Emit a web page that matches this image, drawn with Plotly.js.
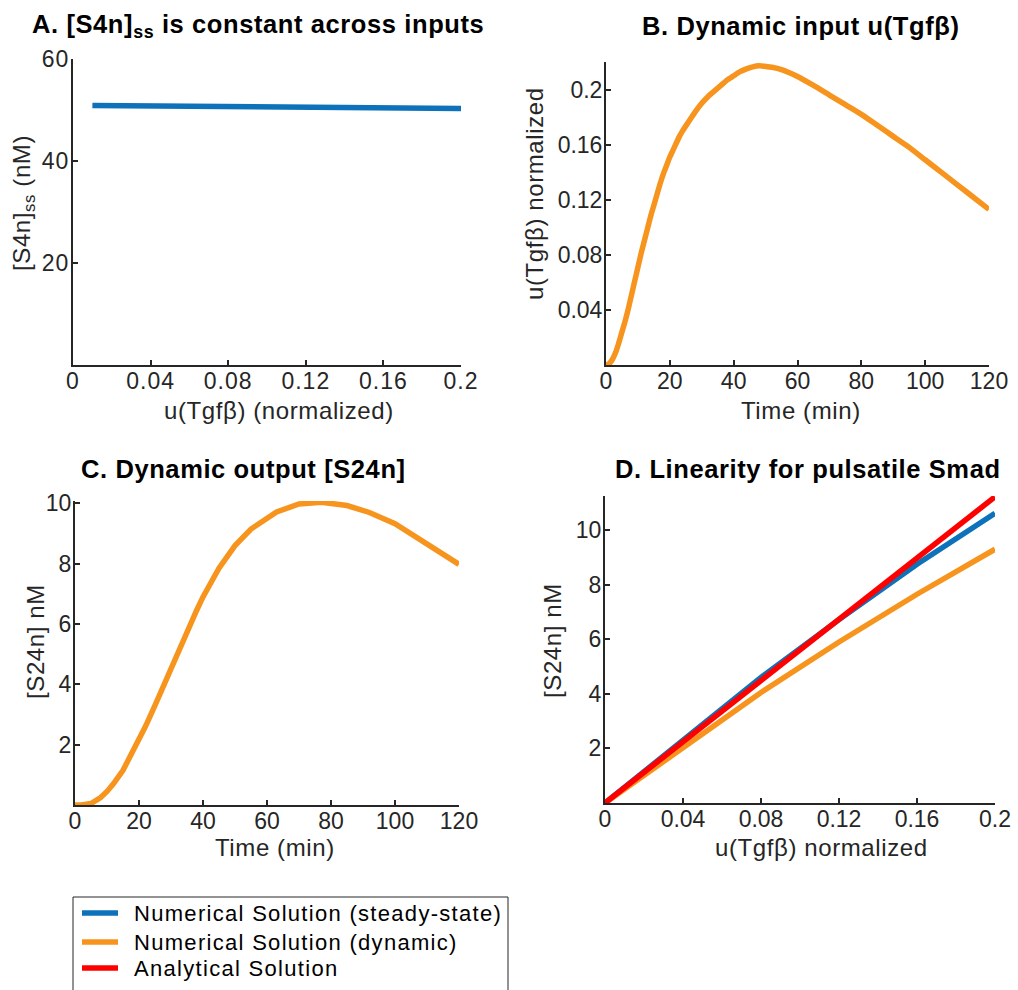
<!DOCTYPE html>
<html>
<head>
<meta charset="utf-8">
<script src="https://cdn.plot.ly/plotly-3.0.1.min.js"></script>
<style>
html,body{margin:0;padding:0;background:#fff;width:1018px;height:990px;overflow:hidden;}
#chart{position:absolute;left:0;top:0;width:1018px;height:990px;}
.xtick text,.ytick text{letter-spacing:1px;}
.annotation-text{letter-spacing:0.6px;}
text.annotation-text[style*="font-size: 22px"]{letter-spacing:1.3px;}
</style>
</head>
<body>
<div id="chart"></div>
<script>
// ---- Data ----
// Panel A: steady-state [S4n] vs input
const aInput = [0.01, 0.05, 0.10, 0.15, 0.20];
const aS4n = [50.9, 50.75, 50.6, 50.45, 50.3];

// Panel B: dynamic input u(Tgfb) over time
const bTime = [0, 1, 2, 3, 4, 5, 6, 7, 8, 9, 10, 11, 12, 13, 14, 15, 16, 17, 18, 19, 20, 21, 22, 23, 24, 26, 28, 30, 32, 34, 36, 38, 40, 42, 44, 46, 48, 50, 52, 55, 60, 65, 70, 75, 80, 85, 90, 95, 100, 105, 110, 115, 120];
const bInput = [0, 0.001, 0.004, 0.009, 0.016, 0.024, 0.032, 0.041, 0.051, 0.061, 0.071, 0.081, 0.090, 0.099, 0.108, 0.116, 0.124, 0.132, 0.139, 0.145, 0.151, 0.156, 0.161, 0.166, 0.170, 0.177, 0.184, 0.190, 0.195, 0.199, 0.203, 0.207, 0.210, 0.213, 0.215, 0.2165, 0.2172, 0.2168, 0.2162, 0.2145, 0.2095, 0.203, 0.196, 0.189, 0.182, 0.174, 0.166, 0.158, 0.149, 0.140, 0.131, 0.122, 0.113];

// Panel C: dynamic output [S24n] over time
const cTime = [0, 2, 5, 8, 10, 12, 15, 18, 20, 22, 25, 28, 30, 33, 35, 38, 40, 43, 45, 48, 50, 55, 63, 70, 77, 85, 92, 100, 110, 120];
const cS24n = [0, 0, 0.05, 0.25, 0.45, 0.7, 1.15, 1.75, 2.15, 2.6, 3.3, 4.05, 4.55, 5.3, 5.8, 6.45, 6.9, 7.45, 7.85, 8.3, 8.6, 9.15, 9.72, 9.98, 10.04, 9.93, 9.7, 9.33, 8.68, 7.98];

// Panel D: linearity
const dInput = [0, 0.04, 0.08, 0.12, 0.16, 0.20];
const dSteady = [0, 2.33, 4.6, 6.72, 8.75, 10.62];
const dDynamic = [0, 2.0, 4.05, 5.9, 7.65, 9.3];
const dAnalytical = [0, 2.24, 4.49, 6.73, 8.98, 11.22];

// Tick labels
const uTicks = [0, 0.04, 0.08, 0.12, 0.16, 0.2];
const uTickText = ['0', '0.04', '0.08', '0.12', '0.16', '0.2'];
const tTicks = [0, 20, 40, 60, 80, 100, 120];
const aYTicks = [20, 40, 60];
const bYTicks = [0.04, 0.08, 0.12, 0.16, 0.2];
const bYTickText = ['0.04', '0.08', '0.12', '0.16', '0.2'];
const cdYTicks = [2, 4, 6, 8, 10];

const legendNames = ['Numerical Solution (steady-state)', 'Numerical Solution (dynamic)', 'Analytical Solution'];

// ---- Styling ----
const W = 1018, H = 990;
const X = px => px / W;
const Y = py => 1 - py / H;
const BLUE = '#0E72BA', ORANGE = '#F7941E', RED = '#FF0000';
const legendColors = [BLUE, ORANGE, RED];
const AX = '#262626';
const FONT = 'Liberation Sans, Arial, sans-serif';
const LW = 5.5;

function axis(extra) {
  return Object.assign({
    showline: true, linecolor: AX, linewidth: 2,
    ticks: 'inside', ticklen: 5, tickwidth: 2, tickcolor: AX,
    showgrid: false, zeroline: false, mirror: false,
    tickfont: {family: FONT, size: 23, color: AX},
    fixedrange: true, automargin: false
  }, extra);
}
const xa = e => axis(Object.assign({ticklabelstandoff: -6}, e));
const ya = e => axis(Object.assign({ticklabelstandoff: -3}, e));

const traces = [
  {x: aInput, y: aS4n, xaxis: 'x', yaxis: 'y', mode: 'lines', line: {color: BLUE, width: LW}, showlegend: false},
  {x: bTime, y: bInput, xaxis: 'x2', yaxis: 'y2', mode: 'lines', line: {color: ORANGE, width: LW, shape: 'spline', smoothing: 0.6}, showlegend: false},
  {x: cTime, y: cS24n, xaxis: 'x3', yaxis: 'y3', mode: 'lines', line: {color: ORANGE, width: LW}, showlegend: false},
  {x: dInput, y: dSteady, xaxis: 'x4', yaxis: 'y4', mode: 'lines', line: {color: BLUE, width: LW}, name: legendNames[0], showlegend: false},
  {x: dInput, y: dDynamic, xaxis: 'x4', yaxis: 'y4', mode: 'lines', line: {color: ORANGE, width: LW}, name: legendNames[1], showlegend: false},
  {x: dInput, y: dAnalytical, xaxis: 'x4', yaxis: 'y4', mode: 'lines', line: {color: RED, width: LW}, name: legendNames[2], showlegend: false}
];

function ann(text, x, y, opts) {
  return Object.assign({text: text, x: X(x), y: Y(y), xref: 'paper', yref: 'paper', showarrow: false,
    xanchor: 'center', yanchor: 'middle', font: {family: FONT, size: 24, color: AX}}, opts || {});
}
const TF = {family: FONT, size: 25.5, color: '#000'};

// Legend box (drawn as shapes + text)
const legRows = [913, 942, 968];
const shapes = [{type: 'rect', xref: 'paper', yref: 'paper', x0: X(73), x1: X(508), y0: Y(897), y1: Y(1000),
  line: {color: AX, width: 1}, fillcolor: '#fff', layer: 'above'}];
const legendAnns = [];
legRows.forEach((r, i) => {
  shapes.push({type: 'line', xref: 'paper', yref: 'paper', x0: X(82), x1: X(118), y0: Y(r), y1: Y(r),
    line: {color: legendColors[i], width: LW}, layer: 'above'});
  legendAnns.push(ann(legendNames[i], 132, r, {xanchor: 'left', font: {family: FONT, size: 22, color: '#000'}}));
});

const layout = {
  width: W, height: H,
  margin: {l: 0, r: 0, t: 0, b: 0, pad: 0, autoexpand: false},
  paper_bgcolor: '#fff', plot_bgcolor: '#fff',
  showlegend: false,
  xaxis: xa({domain: [X(73), X(461)], range: [0, 0.2], tickvals: uTicks, ticktext: uTickText, anchor: 'y'}),
  yaxis: ya({domain: [Y(365), Y(59)], range: [0, 60], tickvals: aYTicks, anchor: 'x'}),
  xaxis2: xa({domain: [X(606), X(989)], range: [0, 120], tickvals: tTicks, anchor: 'y2'}),
  yaxis2: ya({domain: [Y(365), Y(62)], range: [0, 0.22], tickvals: bYTicks, ticktext: bYTickText, anchor: 'x2'}),
  xaxis3: xa({domain: [X(75), X(459)], range: [0, 120], tickvals: tTicks, anchor: 'y3'}),
  yaxis3: ya({domain: [Y(805), Y(501)], range: [0, 10.08], tickvals: cdYTicks, anchor: 'x3'}),
  xaxis4: xa({domain: [X(605), X(995)], range: [0, 0.2], tickvals: uTicks, ticktext: uTickText, anchor: 'y4'}),
  yaxis4: ya({domain: [Y(803), Y(496)], range: [0, 11.25], tickvals: cdYTicks, anchor: 'x4'}),
  shapes: shapes,
  annotations: [
    ann('<b>A. [S4n]<sub>ss</sub> is constant across inputs</b>', 258, 26, {font: TF}),
    ann('<b>B. Dynamic input u(Tgfβ)</b>', 801, 26, {font: TF}),
    ann('<b>C. Dynamic output [S24n]</b>', 243, 469, {font: TF}),
    ann('<b>D. Linearity for pulsatile Smad</b>', 808, 469, {font: TF}),
    ann('u(Tgfβ) (normalized)', 279, 410),
    ann('[S4n]<sub>ss</sub> (nM)', 23, 203, {textangle: -90}),
    ann('Time (min)', 801, 410),
    ann('u(Tgfβ) normalized', 534, 194, {textangle: -90}),
    ann('Time (min)', 275, 847),
    ann('[S24n] nM', 35, 642, {textangle: -90}),
    ann('u(Tgfβ) normalized', 821, 847),
    ann('[S24n] nM', 552, 641, {textangle: -90})
  ].concat(legendAnns)
};

Plotly.newPlot('chart', traces, layout, {displayModeBar: false, staticPlot: true});
</script>
</body>
</html>
